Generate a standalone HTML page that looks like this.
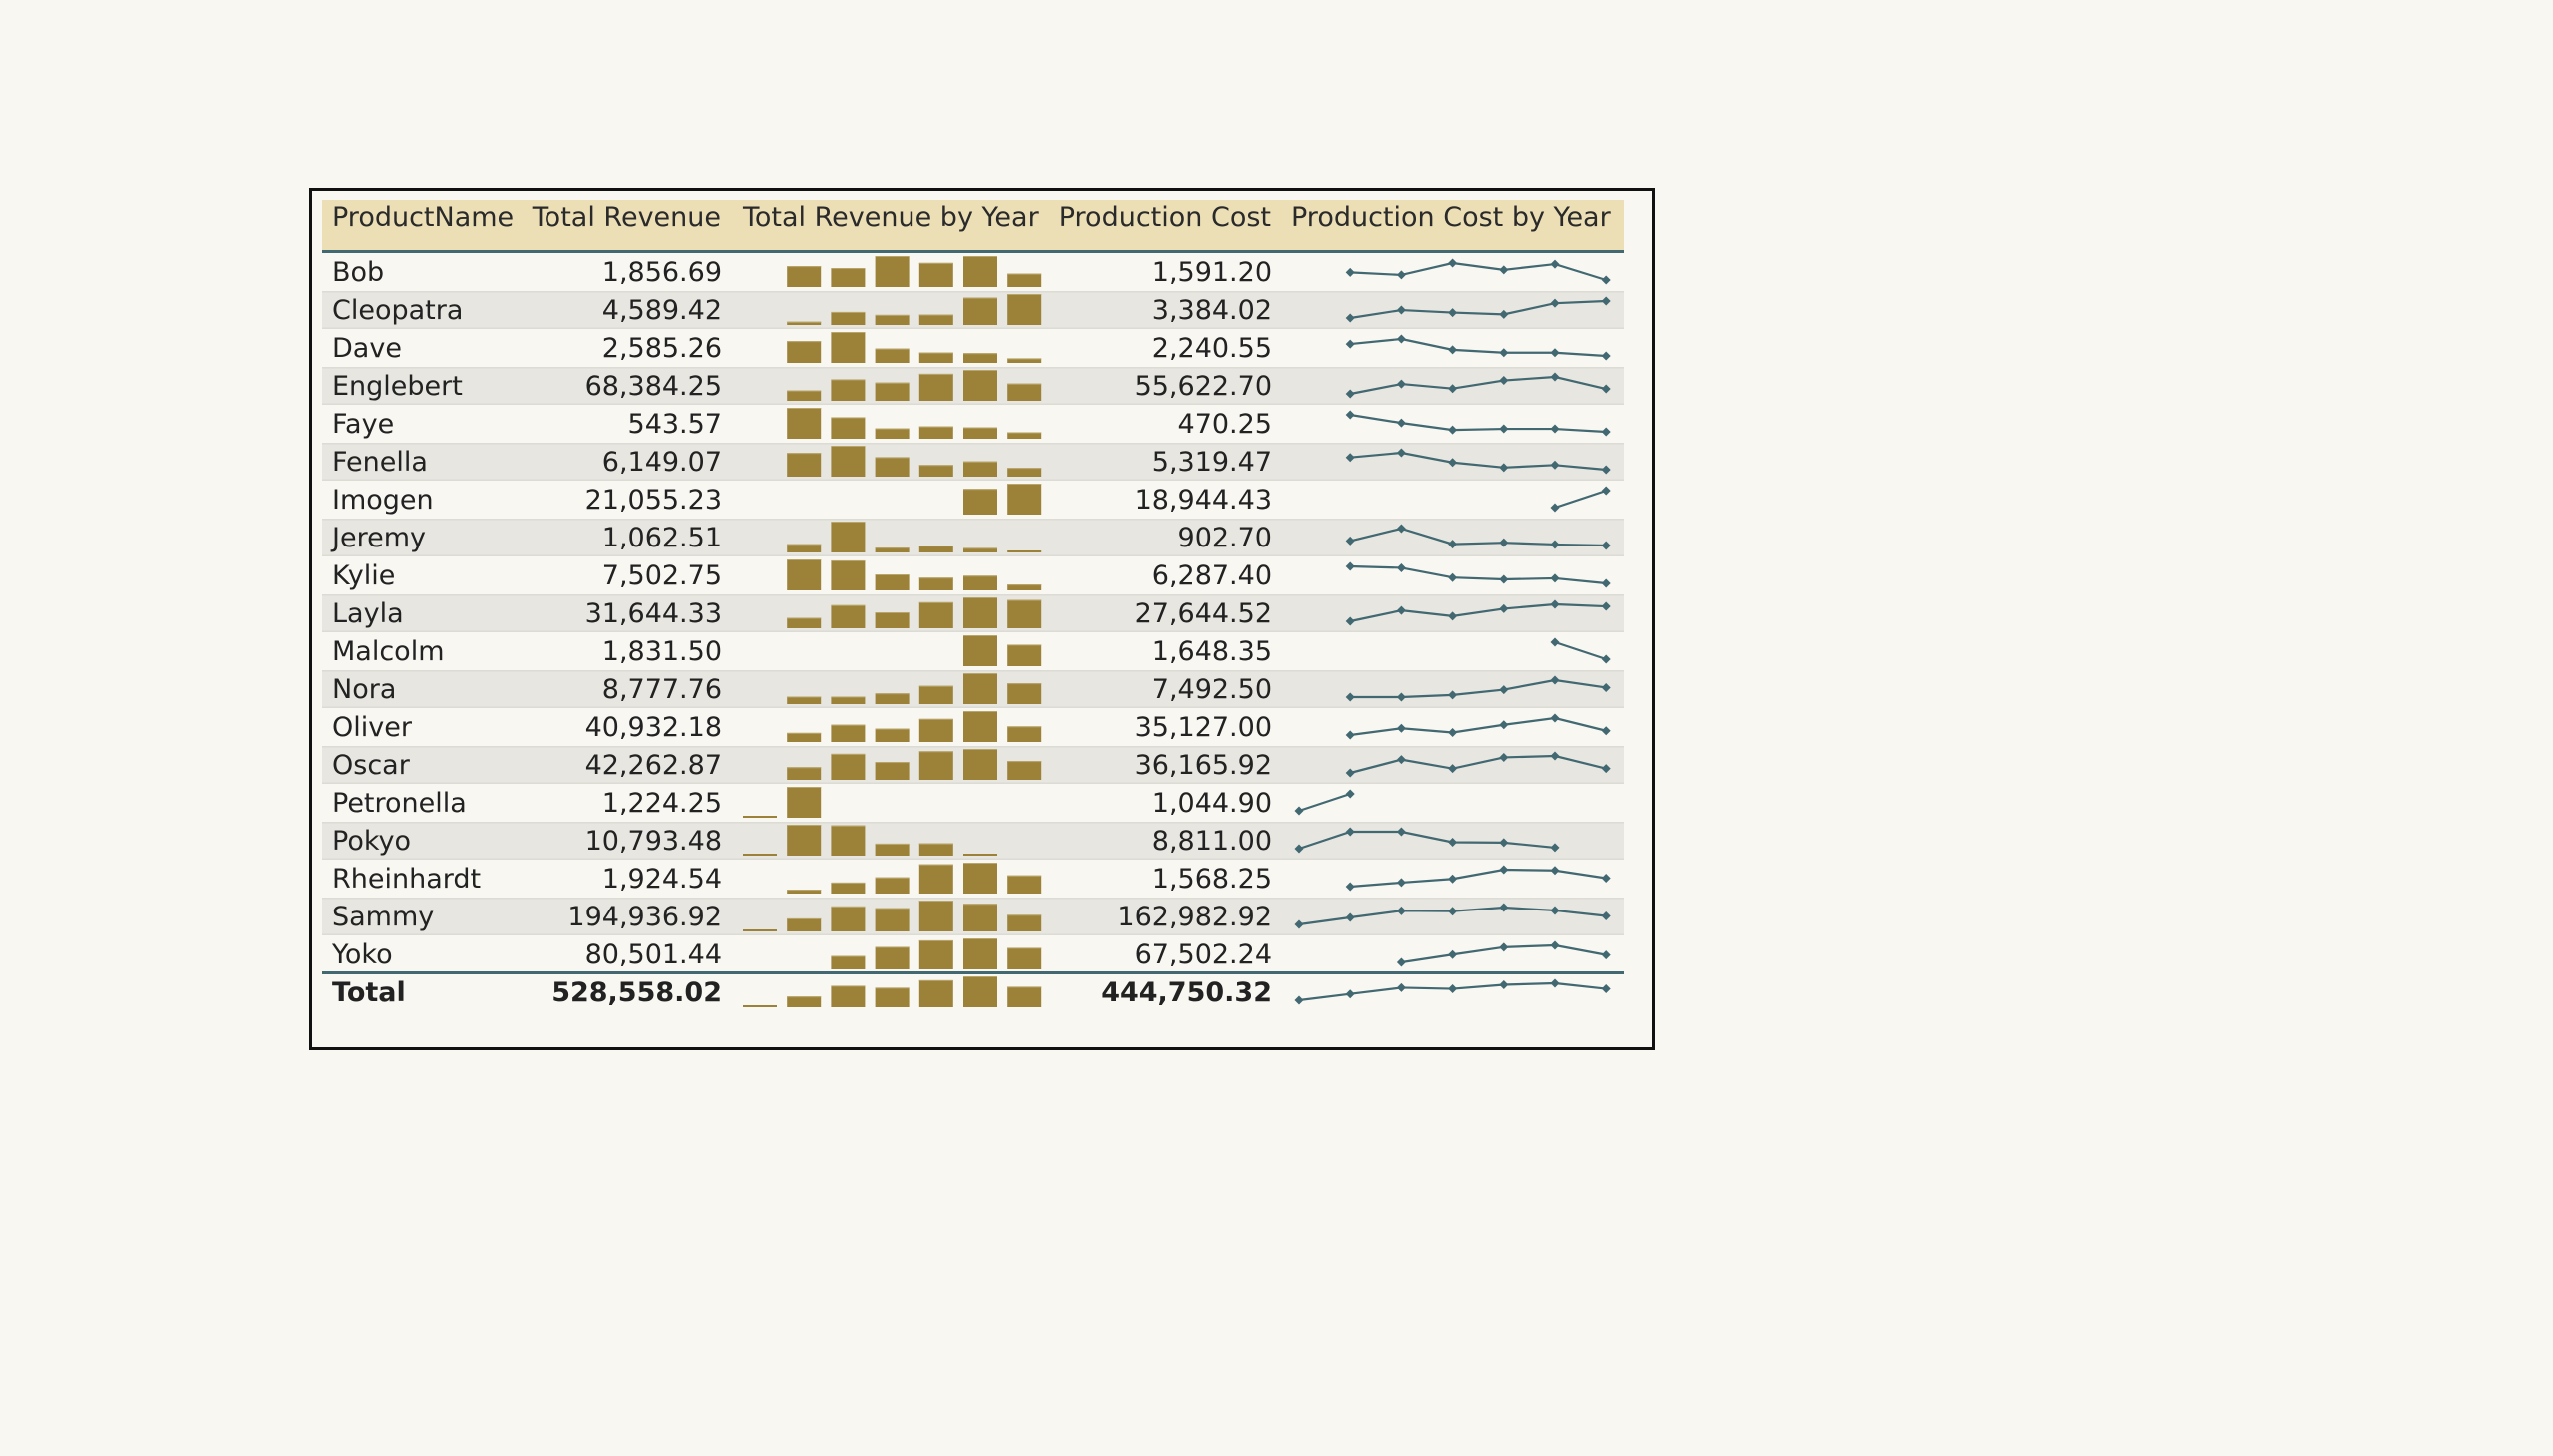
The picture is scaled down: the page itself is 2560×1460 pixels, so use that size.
<!DOCTYPE html>
<html><head><meta charset="utf-8"><style>
html,body{margin:0;padding:0;background:#f8f7f2;}
svg{display:block;font-family:"DejaVu Sans","Liberation Sans",sans-serif;}
</style></head><body>
<svg id="chart" width="2560" height="1460" xmlns="http://www.w3.org/2000/svg">
<rect x="0" y="0" width="2560" height="1460" fill="#f8f7f2"/>
<rect x="311.5" y="190.5" width="1347" height="861" fill="none" stroke="#111" stroke-width="3"/>
<rect x="323" y="201" width="1305" height="51" fill="#ecdfb6"/>
<rect x="323" y="251" width="1305" height="3" fill="#426872"/>
<g font-size="27" fill="#2a2a2a">
<text x="333" y="227">ProductName</text>
<text x="723" y="227" text-anchor="end">Total Revenue</text>
<text x="745" y="227">Total Revenue by Year</text>
<text x="1274" y="227" text-anchor="end">Production Cost</text>
<text x="1295" y="227">Production Cost by Year</text>
</g>
<g id="rows"></g>
</svg>
<script>
const names = ["Bob","Cleopatra","Dave","Englebert","Faye","Fenella","Imogen","Jeremy","Kylie","Layla","Malcolm","Nora","Oliver","Oscar","Petronella","Pokyo","Rheinhardt","Sammy","Yoko","Total"];
const revenue = ["1,856.69","4,589.42","2,585.26","68,384.25","543.57","6,149.07","21,055.23","1,062.51","7,502.75","31,644.33","1,831.50","8,777.76","40,932.18","42,262.87","1,224.25","10,793.48","1,924.54","194,936.92","80,501.44","528,558.02"];
const cost = ["1,591.20","3,384.02","2,240.55","55,622.70","470.25","5,319.47","18,944.43","902.70","6,287.40","27,644.52","1,648.35","7,492.50","35,127.00","36,165.92","1,044.90","8,811.00","1,568.25","162,982.92","67,502.24","444,750.32"];
const N = null;
const revByYear = [
 [N,64,58,95,74,95,41],
 [N,10,40,31,32,84,95],
 [N,67,95,44,32,30,14],
 [N,32,66,56,83,95,53],
 [N,95,66,32,38,35,20],
 [N,73,95,60,36,47,27],
 [N,N,N,N,N,79,95],
 [N,26,95,15,21,14,6],
 [N,95,92,49,39,45,18],
 [N,32,71,49,80,95,87],
 [N,N,N,N,N,95,66],
 [N,23,23,33,56,95,64],
 [N,28,53,41,71,95,48],
 [N,39,80,55,88,95,58],
 [0,95,N,N,N,N,N],
 [0,95,93,37,38,2,N],
 [N,12,34,50,90,95,56],
 [0,40,77,72,95,85,51],
 [N,N,41,69,89,95,66],
 [0,33,66,60,83,95,63]
];
const costByYear = [
 [N,52,45,78,59,75,31],
 [N,32,54,47,42,73,79],
 [N,64,78,48,40,40,31],
 [N,30,58,45,68,78,44],
 [N,77,55,36,39,39,31],
 [N,64,77,50,36,43,30],
 [N,N,N,N,N,30,78],
 [N,44,79,35,39,34,31],
 [N,78,74,47,42,45,31],
 [N,29,61,44,66,79,73],
 [N,N,N,N,N,78,31],
 [N,30,30,36,51,78,57],
 [N,31,50,38,60,79,43],
 [N,31,68,43,74,78,43],
 [31,78,N,N,N,N,N],
 [31,78,78,49,48,34,N],
 [N,31,42,52,77,75,54],
 [32,51,69,68,78,70,55],
 [N,N,31,52,72,77,51],
 [32,49,66,63,74,78,63]
];

const NS = "http://www.w3.org/2000/svg";
const g = document.getElementById('rows');
const ROW0 = 254, RH = 38;
function rowTop(i){ return ROW0 + i*RH; }
function barX(j){ return 745 + j*44.2; }
function lineX(j){ return 1303 + j*51.2; }
function mk(tag, attrs){ const e=document.createElementNS(NS,tag); for(const k in attrs) e.setAttribute(k,attrs[k]); return e; }

names.forEach((nm,i)=>{
  const top = rowTop(i);
  const isTotal = i===names.length-1;
  const row = mk('g',{});
  
  
  g.appendChild(row);
  if(i%2===1 && !isTotal){
    const bg = mk('rect',{x:323,y:top,width:1305,height:RH,fill:'#e7e6e0'});
    
    
    row.appendChild(bg);
    row.appendChild(mk('rect',{x:323,y:top,width:1305,height:1.5,fill:'#dcdbd4'}));
    row.appendChild(mk('rect',{x:323,y:top+RH-1.5,width:1305,height:1.5,fill:'#dcdbd4'}));
  }
  if(isTotal){
    const ln = mk('rect',{x:323,y:top-2,width:1305,height:3,fill:'#426872'});
    
    
    row.appendChild(ln);
  }
  const fw = isTotal ? 'bold' : 'normal';
  const base = top + 28;
  const t1 = mk('text',{x:333,y:base,'font-size':27,fill:'#222','font-weight':fw});
  t1.textContent = nm;
  
  
  row.appendChild(t1);
  const t2 = mk('text',{x:724,y:base,'font-size':27,fill:'#222','font-weight':fw,'text-anchor':'end'});
  t2.textContent = revenue[i];
  
  
  row.appendChild(t2);
  const t3 = mk('text',{x:1275,y:base,'font-size':27,fill:'#222','font-weight':fw,'text-anchor':'end'});
  t3.textContent = cost[i];
  
  
  row.appendChild(t3);

  const rv = revByYear[i];
  const mx = Math.max(...rv.filter(v=>v!==null));
  const bBottom = top + 34, maxH = 31;
  rv.forEach((v,j)=>{
    if(v===null) return;
    let h = mx>0 ? v/mx*maxH : 0;
    if(h<2) h=2;
    const b = mk('rect',{x:barX(j),y:bBottom-h,width:34,height:h,fill:'#9c8239'});
    
    
    row.appendChild(b);
    if(h>3) row.appendChild(mk('rect',{x:barX(j),y:bBottom-h,width:34,height:1,fill:'#b9a66c'}));
  });

  const cv = costByYear[i];
  const vals = cv.filter(v=>v!==null);
  const lo = Math.min(...vals), hi = Math.max(...vals);
  const yTop = top + 10, yBot = top + 27;
  const yOf = v => hi===lo ? (yTop+yBot)/2 : yBot - (v-lo)/(hi-lo)*(yBot-yTop);
  const pts = [];
  cv.forEach((v,j)=>{ if(v!==null) pts.push([lineX(j), yOf(v)]); });
  const pl = mk('polyline',{points:pts.map(p=>p.join(',')).join(' '),fill:'none',stroke:'#426872','stroke-width':2.2});
  
  
  row.appendChild(pl);
  pts.forEach(p=>{
    const d = mk('polygon',{points:`${p[0]},${p[1]-4.5} ${p[0]+4.5},${p[1]} ${p[0]},${p[1]+4.5} ${p[0]-4.5},${p[1]}`,fill:'#426872'});
    
    
    row.appendChild(d);
  });
});
</script>
</body></html>
